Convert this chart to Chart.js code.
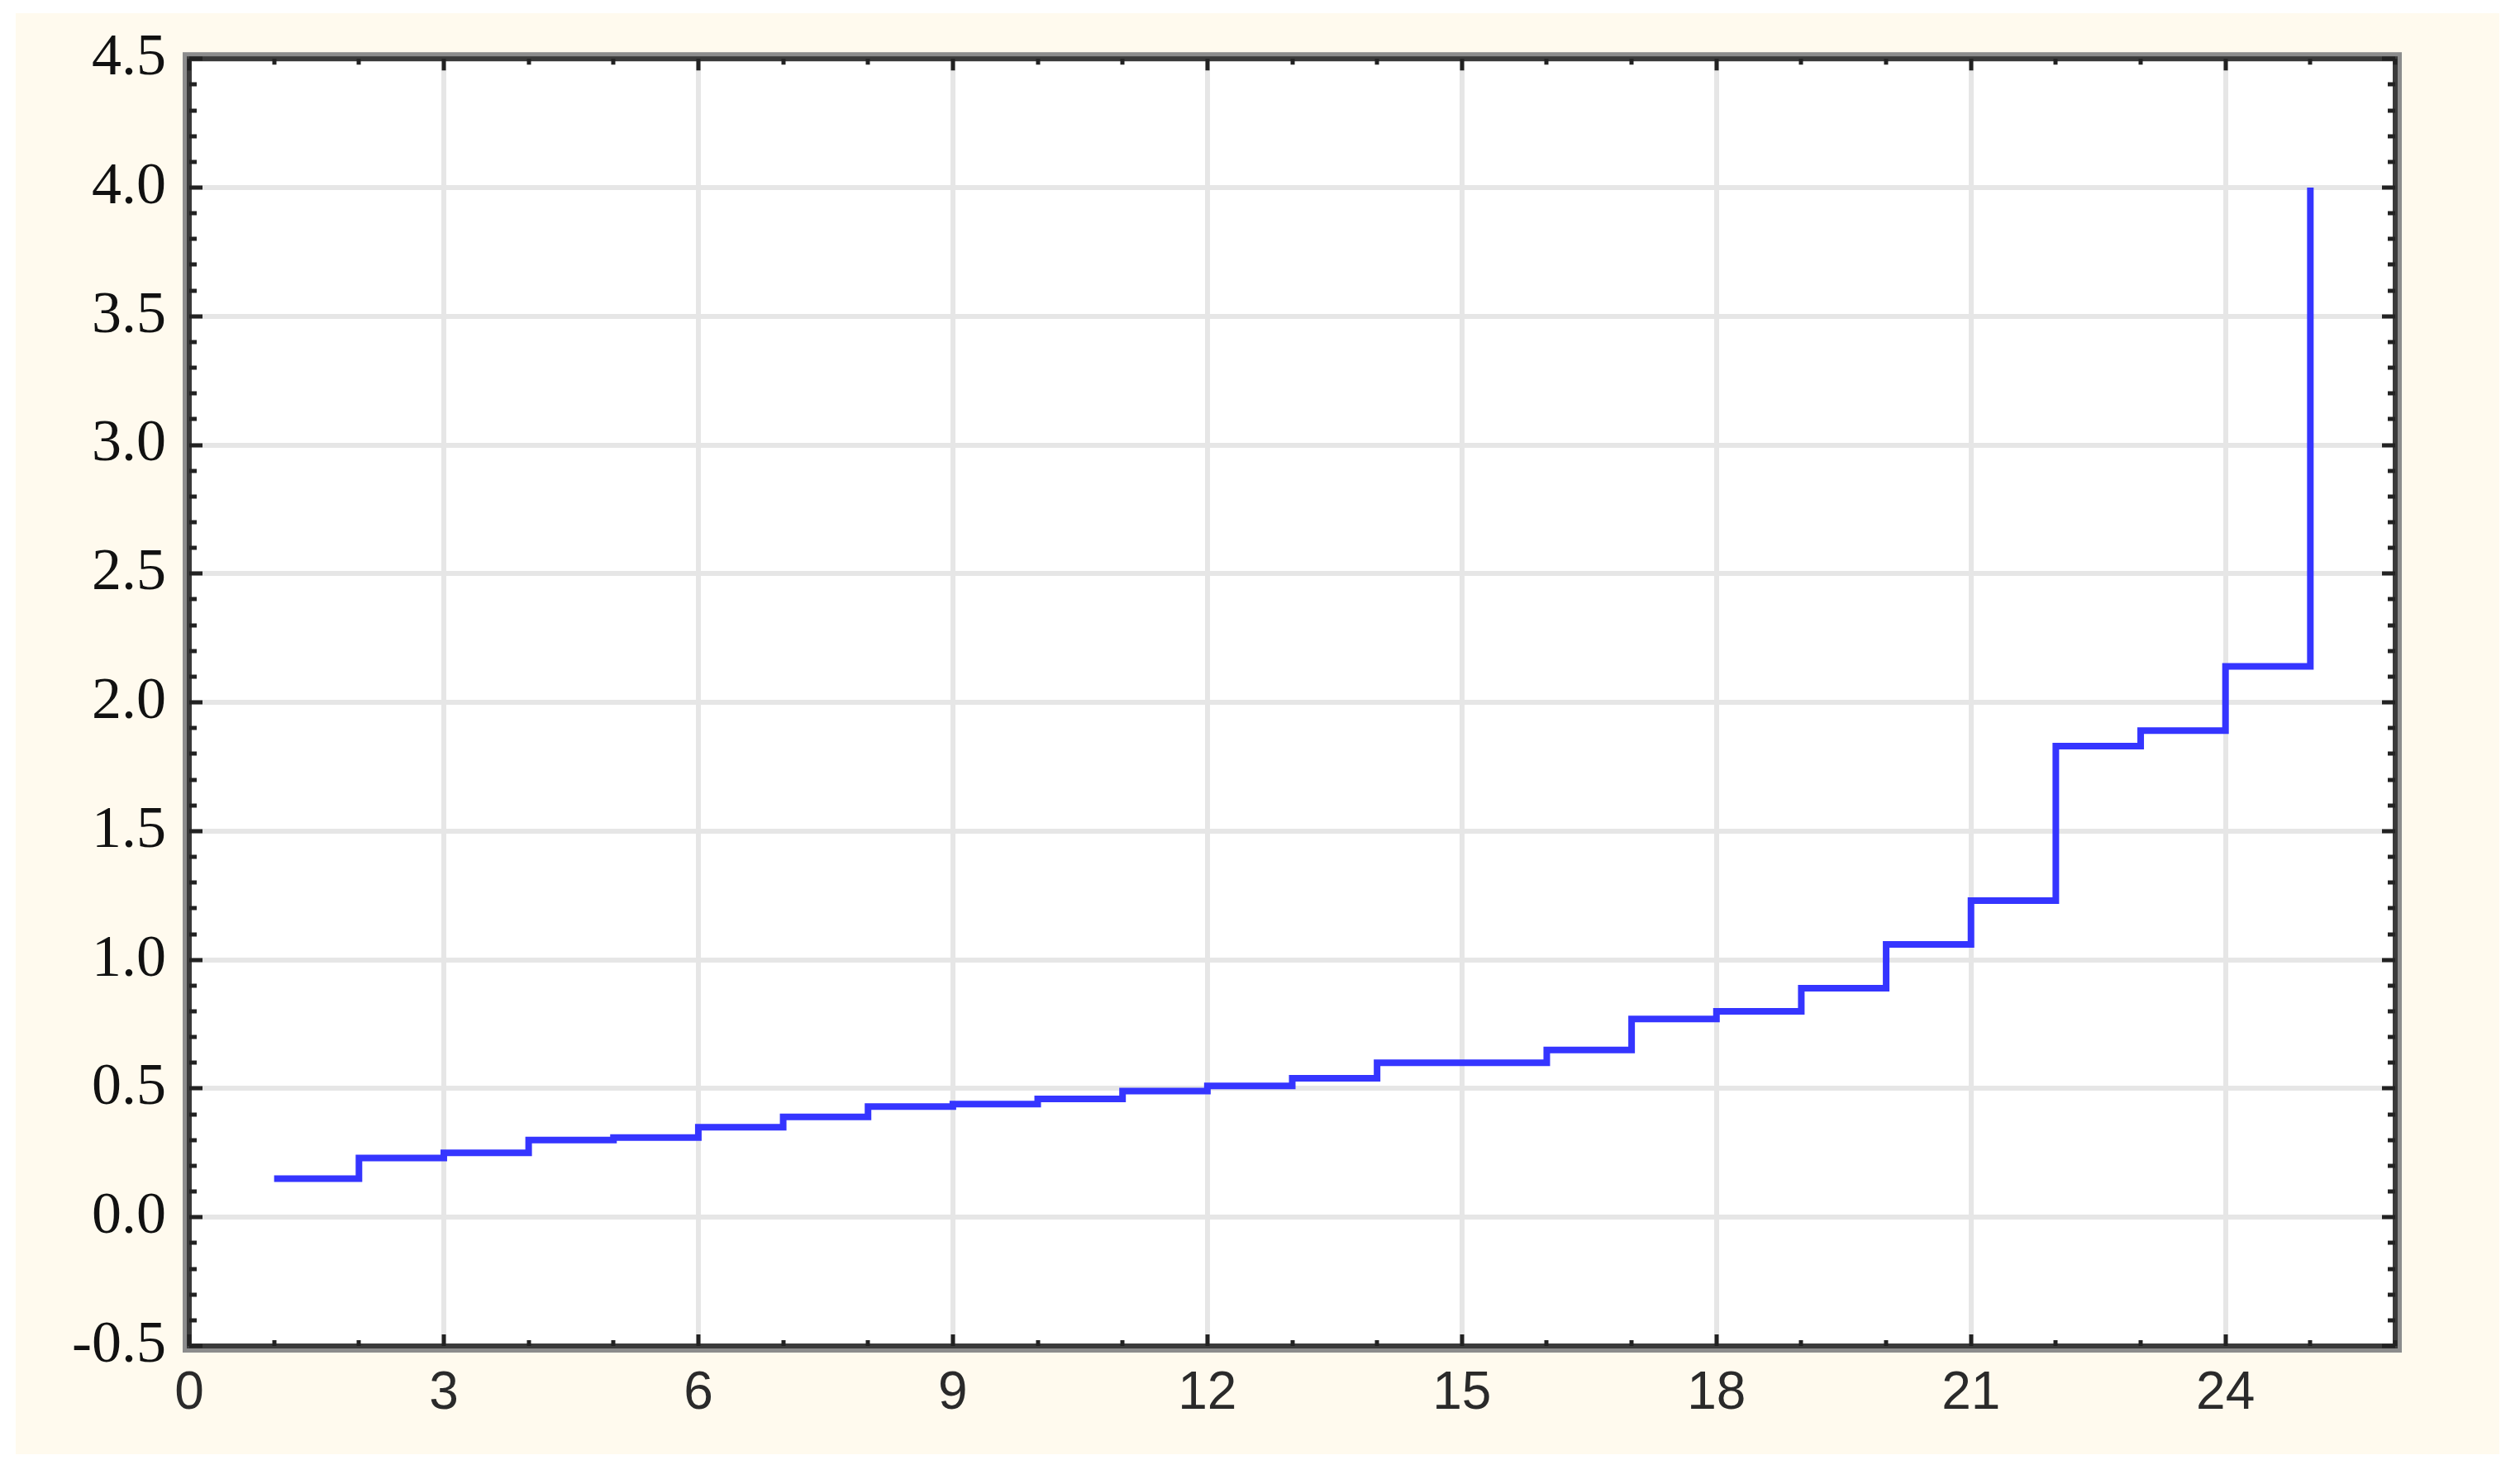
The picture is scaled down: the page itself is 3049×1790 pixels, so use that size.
<!DOCTYPE html>
<html>
<head>
<meta charset="utf-8">
<script src="https://cdn.jsdelivr.net/npm/chart.js@4"></script>
<style>
  html, body { margin: 0; padding: 0; background: #ffffff; }
  #wrap { width: 3049px; height: 1790px; }
</style>
</head>
<body>
<div id="wrap"><canvas id="stepChart" width="3049" height="1790"></canvas></div>
<script>
// data
const xValues = [1, 2, 3, 4, 5, 6, 7, 8, 9, 10, 11, 12, 13, 14, 15, 16, 17, 18, 19, 20, 21, 22, 23, 24, 25];
const yValues = [0.15, 0.23, 0.25, 0.30, 0.31, 0.35, 0.39, 0.43, 0.44, 0.46, 0.49, 0.51, 0.54, 0.60, 0.60, 0.65, 0.77, 0.80, 0.89, 1.06, 1.23, 1.83, 1.89, 2.14, 4.00];
const xTicks = [0, 3, 6, 9, 12, 15, 18, 21, 24];
const yTicks = [-0.5, 0.0, 0.5, 1.0, 1.5, 2.0, 2.5, 3.0, 3.5, 4.0, 4.5];

const points = xValues.map((x, i) => ({ x: x, y: yValues[i] }));

// cream page background with white plot area
const backdrop = {
  id: 'backdrop',
  beforeDraw(chart) {
    const c = chart.ctx;
    const a = chart.chartArea;
    c.save();
    c.fillStyle = '#ffffff';
    c.fillRect(0, 0, chart.width, chart.height);
    c.fillStyle = '#fffaee';
    c.fillRect(19, 16, 3005, 1744);
    c.fillStyle = '#ffffff';
    c.fillRect(a.left, a.top, a.right - a.left, a.bottom - a.top);
    c.restore();
  }
};

// frame with inward tick marks on all four sides
const frame = {
  id: 'frame',
  afterDraw(chart) {
    const c = chart.ctx;
    const a = chart.chartArea;
    const xs = chart.scales.x;
    const ys = chart.scales.y;
    c.save();
    c.strokeStyle = '#8c8c8c';
    c.lineWidth = 6;
    c.strokeRect(a.left - 5, a.top - 5, a.right - a.left + 10, a.bottom - a.top + 10);
    c.strokeStyle = '#3a3a3a';
    c.lineWidth = 6;
    c.strokeRect(a.left, a.top, a.right - a.left, a.bottom - a.top);

    c.strokeStyle = '#222';
    c.lineWidth = 5;
    for (let i = 0; i <= 50; i++) {
      const v = -0.5 + i * 0.1;
      const py = Math.round(ys.getPixelForValue(v));
      const len = (i % 5 === 0) ? 16 : 9;
      c.beginPath();
      c.moveTo(a.left, py); c.lineTo(a.left + len, py);
      c.moveTo(a.right, py); c.lineTo(a.right - len, py);
      c.stroke();
    }
    for (let v = 0; v <= 26; v++) {
      const px = Math.round(xs.getPixelForValue(v));
      const len = (v % 3 === 0) ? 14 : 7;
      c.beginPath();
      c.moveTo(px, a.bottom); c.lineTo(px, a.bottom - len);
      c.moveTo(px, a.top); c.lineTo(px, a.top + len);
      c.stroke();
    }
    c.restore();
  }
};

new Chart(document.getElementById('stepChart'), {
  type: 'line',
  data: {
    datasets: [{
      data: points,
      stepped: 'before',
      borderColor: '#3535ff',
      borderWidth: 8,
      pointRadius: 0,
      fill: false
    }]
  },
  options: {
    responsive: false,
    animation: false,
    devicePixelRatio: 1,
    layout: { padding: { top: 70, right: 151, left: 0, bottom: 0 } },
    plugins: {
      legend: { display: false },
      tooltip: { enabled: false }
    },
    scales: {
      x: {
        type: 'linear',
        min: 0,
        max: 26,
        afterBuildTicks: s => { s.ticks = xTicks.map(v => ({ value: v })); },
        afterFit: s => { s.height = 1790 - 1629; },
        border: { display: false },
        grid: { color: '#e6e6e6', lineWidth: 6, drawTicks: false },
        ticks: {
          padding: 20,
          color: '#2a2a2a',
          font: { family: 'Liberation Sans', size: 64 },
          maxRotation: 0
        }
      },
      y: {
        min: -0.5,
        max: 4.5,
        afterBuildTicks: s => { s.ticks = yTicks.map(v => ({ value: v })); },
        afterFit: s => { s.width = 229; },
        border: { display: false },
        grid: { color: '#e6e6e6', lineWidth: 6, drawTicks: false },
        ticks: {
          padding: 28,
          color: '#111',
          font: { family: 'Liberation Serif', size: 72 },
          callback: v => v.toFixed(1)
        }
      }
    }
  },
  plugins: [backdrop, frame]
});
</script>
</body>
</html>
